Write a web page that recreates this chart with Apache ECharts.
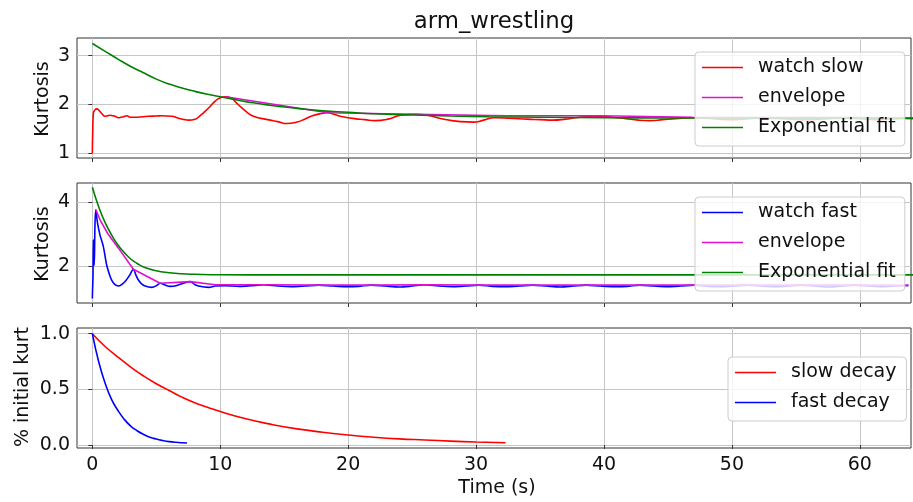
<!DOCTYPE html>
<html>
<head>
<meta charset="utf-8">
<script src="https://cdn.jsdelivr.net/npm/echarts@6/dist/echarts.min.js"></script>
<style>
  html, body { margin: 0; padding: 0; background: #ffffff; }
  #chart { width: 913px; height: 502px; }
</style>
</head>
<body>
<div id="chart"></div>
<script>
// ---- data: [time (s), value] ----
// top panel: slow watching kurtosis
const watchSlow = [
  [0, 1.0], [0.03, 1.45], [0.08, 1.82], [0.2, 1.89], [0.34, 1.91], [0.52, 1.88], [0.75, 1.81],
  [0.99, 1.76], [1.2, 1.77], [1.38, 1.78], [1.6, 1.77], [1.78, 1.76], [2.04, 1.73], [2.25, 1.74],
  [2.43, 1.75], [2.69, 1.77], [2.95, 1.74], [3.34, 1.74], [3.9, 1.75], [4.39, 1.76], [5.0, 1.765],
  [5.43, 1.77], [6.21, 1.76], [6.74, 1.72], [7.2, 1.69], [7.52, 1.68], [8.04, 1.70], [8.43, 1.77],
  [8.69, 1.83], [9.2, 1.96], [9.6, 2.07], [10.0, 2.14], [10.4, 2.16], [10.8, 2.14], [11.2, 2.05],
  [11.6, 1.95], [12.1, 1.84], [12.6, 1.76], [13.7, 1.69], [14.5, 1.65], [15.2, 1.61], [16.0, 1.64],
  [16.6, 1.70], [17.1, 1.76], [17.8, 1.81], [18.4, 1.83], [19.0, 1.79], [19.4, 1.76], [20.5, 1.71],
  [21.3, 1.69], [22.1, 1.67], [23.1, 1.70], [24.1, 1.78], [25.2, 1.80], [26.2, 1.78], [27.3, 1.71],
  [28.8, 1.65], [29.8, 1.64], [30.6, 1.68], [31.4, 1.73], [32.6, 1.72], [34.0, 1.70], [35.0, 1.69],
  [36.0, 1.68], [37.0, 1.70], [37.8, 1.73], [38.8, 1.75], [39.7, 1.76], [40.7, 1.74], [41.7, 1.71],
  [42.7, 1.68], [43.6, 1.67], [44.6, 1.69], [45.6, 1.71], [46.9, 1.73], [48.0, 1.72], [49.0, 1.70],
  [50.2, 1.69], [51.3, 1.71], [52.4, 1.73], [53.5, 1.72], [54.6, 1.70], [55.7, 1.69], [56.8, 1.70],
  [57.9, 1.72], [59.0, 1.73], [60.1, 1.71], [61.2, 1.69], [62.3, 1.70], [63.4, 1.72], [64.5, 1.71]
];
const envelopeSlow = [
  [10.4, 2.16], [18.4, 1.83], [25.2, 1.80], [32.4, 1.77], [39.7, 1.77], [46.9, 1.74],
  [52.4, 1.735], [59.0, 1.735], [64.5, 1.72]
];
const fitSlow = [
  [0, 3.25], [1, 3.09], [2, 2.93], [3, 2.78], [4, 2.65], [5, 2.52], [6, 2.42], [7, 2.34],
  [8, 2.27], [9, 2.21], [10, 2.16], [11, 2.11], [12, 2.06], [13, 2.02], [14, 1.98], [15, 1.95],
  [16, 1.92], [18, 1.87], [20, 1.84], [22, 1.81], [25, 1.785], [28, 1.765], [31, 1.75],
  [35, 1.74], [40, 1.73], [45, 1.725], [50, 1.72], [57, 1.715], [64.5, 1.715]
];

// middle panel: fast watching kurtosis
const watchFast = [
  [0, 0.98], [0.02, 1.3], [0.05, 1.66], [0.08, 2.82], [0.11, 2.2], [0.15, 2.03], [0.2, 3.2],
  [0.26, 3.76], [0.41, 3.34], [0.6, 2.97], [0.86, 2.61], [1.12, 2.03], [1.35, 1.72], [1.51, 1.56],
  [1.75, 1.42], [2.04, 1.37], [2.3, 1.42], [2.56, 1.51], [2.9, 1.70], [3.21, 1.90], [3.4, 1.72],
  [3.6, 1.56], [3.85, 1.44], [4.13, 1.37], [4.65, 1.33], [5.0, 1.38], [5.3, 1.46], [5.7, 1.40],
  [6.1, 1.36], [6.47, 1.37], [7.0, 1.44], [7.65, 1.51], [8.0, 1.42], [8.3, 1.37], [9.1, 1.33],
  [9.6, 1.37], [10.3, 1.38], [11.5, 1.36], [12.4, 1.38], [13.4, 1.41], [14.5, 1.37], [15.6, 1.35],
  [16.6, 1.37], [17.7, 1.40], [18.8, 1.37], [19.8, 1.35], [20.8, 1.36], [21.8, 1.40], [22.9, 1.37],
  [24.0, 1.34], [25.0, 1.37], [26.0, 1.41], [27.1, 1.37], [28.2, 1.35], [29.2, 1.37], [30.2, 1.40],
  [31.3, 1.36], [32.4, 1.35], [33.4, 1.37], [34.4, 1.40], [35.5, 1.37], [36.6, 1.34], [37.6, 1.37],
  [38.6, 1.40], [39.7, 1.37], [40.8, 1.35], [41.8, 1.36], [42.8, 1.40], [43.9, 1.37], [45.0, 1.35],
  [46.0, 1.37], [47.0, 1.40], [48.1, 1.36], [49.2, 1.35], [50.2, 1.37], [51.2, 1.40], [52.3, 1.37],
  [53.4, 1.35], [54.4, 1.37], [55.4, 1.40], [56.5, 1.37], [57.6, 1.34], [58.6, 1.37], [59.6, 1.40],
  [60.7, 1.37], [61.8, 1.35], [62.8, 1.37], [63.8, 1.39]
];
const envelopeFast = [
  [0.26, 3.78], [0.6, 3.45], [1.2, 3.02], [2.04, 2.56], [3.21, 1.90], [5.3, 1.46], [7.65, 1.51],
  [9.6, 1.41], [13.4, 1.41], [17.7, 1.40], [21.8, 1.40], [26.0, 1.41], [30.2, 1.40], [34.4, 1.40],
  [38.6, 1.40], [42.8, 1.40], [47.0, 1.40], [51.2, 1.40], [55.4, 1.40], [59.6, 1.40], [63.8, 1.39]
];
const fitFast = [
  [0, 4.47], [0.5, 3.85], [1, 3.36], [1.5, 2.98], [2, 2.66], [2.5, 2.42], [3, 2.22], [3.5, 2.08],
  [4, 1.97], [5, 1.85], [6, 1.79], [7, 1.755], [8, 1.74], [10, 1.725], [15, 1.72], [64.5, 1.72]
];

// bottom panel: fraction of initial kurtosis
const slowDecay = [
  [0, 1.0], [1, 0.885], [2, 0.79], [3, 0.70], [4, 0.62], [5, 0.55], [6, 0.49], [7, 0.43],
  [8, 0.38], [9, 0.34], [10, 0.30], [12, 0.235], [14, 0.185], [16, 0.145], [18, 0.115],
  [20, 0.09], [22, 0.07], [24, 0.055], [26, 0.045], [28, 0.035], [30, 0.027], [32.3, 0.02]
];
const fastDecay = [
  [0, 1.0], [0.5, 0.745], [1, 0.555], [1.5, 0.41], [2, 0.31], [2.5, 0.23], [3, 0.17],
  [3.5, 0.128], [4, 0.095], [4.5, 0.07], [5, 0.053], [5.5, 0.04], [6, 0.03], [6.5, 0.024],
  [7.4, 0.018]
];

// ---- axes ----
const xTicks = [0, 10, 20, 30, 40, 50, 60];
const yTicksTop = [1, 2, 3];
const yTicksMid = [2, 4];
const yTicksBot = [0, 0.5, 1.0];

const FONT = 'DejaVu Sans';
const TEXT = '#111111';
const GRIDLINE = '#c6c6c6';
const FRAME = '#333333';

const RED = '#ff0000', BLUE = '#0000ff', GREEN = '#008000', MAGENTA = '#e010d0';
const LEGEND_LINE = 'path://M0,0 L41,0 L41,1.6 L0,1.6 Z';

const chart = echarts.init(document.getElementById('chart'), null, { renderer: 'canvas' });

function makeX(gridIndex, showLabels) {
  return {
    type: 'value', gridIndex, min: -1.2, max: 64, splitNumber: 6,
    axisLine: { show: false },
    axisTick: { show: true, inside: false, length: 4, customValues: xTicks,
                lineStyle: { color: FRAME, width: 1 } },
    axisLabel: { show: showLabels, customValues: xTicks, margin: 8,
                 fontFamily: FONT, fontSize: 19, color: TEXT },
    splitLine: { show: true, lineStyle: { color: GRIDLINE, width: 1 } }
  };
}
function makeY(gridIndex, min, max, split, ticks, fmt) {
  return {
    type: 'value', gridIndex, min, max, splitNumber: split,
    axisLine: { show: false },
    axisTick: { show: true, inside: false, length: 4, customValues: ticks,
                lineStyle: { color: FRAME, width: 1 } },
    axisLabel: { show: true, customValues: ticks, margin: 7,
                 fontFamily: FONT, fontSize: 19, color: TEXT, formatter: fmt },
    splitLine: { show: true, lineStyle: { color: GRIDLINE, width: 1 } }
  };
}
function line(name, data, color, xi, smooth) {
  return {
    type: 'line', name, data, xAxisIndex: xi, yAxisIndex: xi,
    showSymbol: false, symbol: 'none', smooth: smooth,
    clip: true, animation: false,
    lineStyle: { color, width: 1.6 }, itemStyle: { color }
  };
}
function legend(names, left, top, pad) {
  return {
    orient: 'vertical', left, top, data: names,
    icon: LEGEND_LINE,
    itemWidth: 41, itemHeight: 1.6, itemGap: 11, padding: pad,
    backgroundColor: 'rgba(255,255,255,0.8)', borderColor: '#cccccc', borderWidth: 1,
    borderRadius: 4, selectedMode: false,
    textStyle: { fontFamily: FONT, fontSize: 19, color: TEXT, lineHeight: 19, padding: [0, 0, 0, 10] }
  };
}

const grids = [
  { left: 77, width: 834, top: 38, height: 120 },
  { left: 77, width: 834, top: 183, height: 120 },
  { left: 77, width: 834, top: 328, height: 120 }
].map(g => Object.assign(g, { show: true, borderColor: FRAME, borderWidth: 1, backgroundColor: 'transparent', containLabel: false }));

const option = {
  animation: false,
  backgroundColor: '#ffffff',
  grid: grids,
  xAxis: [makeX(0, false), makeX(1, false), makeX(2, true)],
  yAxis: [
    makeY(0, 0.904, 3.363, 3, yTicksTop, v => String(v)),
    makeY(1, 0.838, 4.606, 2, yTicksMid, v => String(v)),
    makeY(2, -0.027, 1.051, 2, yTicksBot, v => v.toFixed(1))
  ],
  legend: [
    legend(['watch slow', 'envelope', 'Exponential fit'], 695, 52, [6, 9, 9, 7]),
    legend(['watch fast', 'envelope', 'Exponential fit'], 695, 197, [6, 9, 9, 7]),
    legend(['slow decay', 'fast decay'], 728, 357, [6, 10, 9, 7])
  ],
  series: [
    line('watch slow', watchSlow, RED, 0, 0.5),
    line('envelope', envelopeSlow, MAGENTA, 0, false),
    line('Exponential fit', fitSlow, GREEN, 0, 0.5),
    line('watch fast', watchFast, BLUE, 1, 0.3),
    line('envelope', envelopeFast, MAGENTA, 1, false),
    line('Exponential fit', fitFast, GREEN, 1, 0.5),
    line('slow decay', slowDecay, RED, 2, 0.5),
    line('fast decay', fastDecay, BLUE, 2, 0.5)
  ],
  graphic: [
    { type: 'text', x: 494, y: 22, style: { text: 'arm_wrestling', font: '22.8px "DejaVu Sans"', fill: TEXT, textAlign: 'center', textVerticalAlign: 'middle' } },
    { type: 'text', x: 43, y: 99, rotation: Math.PI / 2, style: { text: 'Kurtosis', font: '19px "DejaVu Sans"', fill: TEXT, textAlign: 'center', textVerticalAlign: 'middle' } },
    { type: 'text', x: 43, y: 244, rotation: Math.PI / 2, style: { text: 'Kurtosis', font: '19px "DejaVu Sans"', fill: TEXT, textAlign: 'center', textVerticalAlign: 'middle' } },
    { type: 'text', x: 23, y: 387, rotation: Math.PI / 2, style: { text: '% initial kurt', font: '19px "DejaVu Sans"', fill: TEXT, textAlign: 'center', textVerticalAlign: 'middle' } },
    { type: 'text', x: 497, y: 488, style: { text: 'Time (s)', font: '19px "DejaVu Sans"', fill: TEXT, textAlign: 'center', textVerticalAlign: 'middle' } }
  ]
};
chart.setOption(option);
</script>
</body>
</html>
